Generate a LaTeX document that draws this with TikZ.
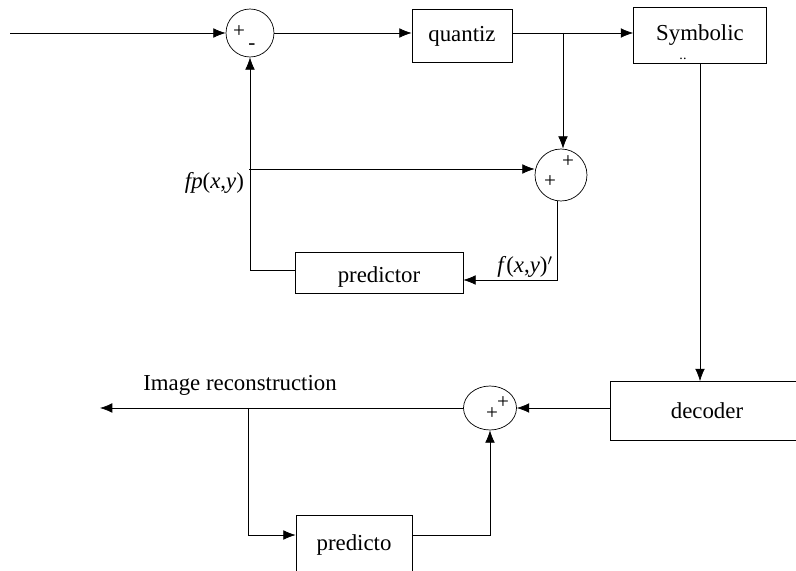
\documentclass[tikz,border=0pt]{standalone}
\usepackage{fontspec}
\setmainfont{Liberation Serif}
\usetikzlibrary{positioning,arrows.meta,shapes.geometric}
\tikzset{>={Latex[length=7pt,width=5.5pt]},
line width=1.1pt,
bl/.style={rectangle,draw,inner sep=0pt},
sm/.style={circle,draw,inner sep=0pt},
sg/.style={font=\fontsize{12}{12}\selectfont,inner sep=0pt},
el/.style={inner sep=1pt},
hv/.style={to path={-| (\tikztotarget)}},
vh/.style={to path={|- (\tikztotarget)}},
}

\begin{document}
\begin{tikzpicture}[x=0.02cm,y=-0.02cm,font=\fontsize{13}{15}\selectfont]
\useasboundingbox (0,0) rectangle (796,571);
\clip (0,0) rectangle (796,571);

\node[sm,minimum size=0.96cm] (s1) at (250,33) {};
\node[sm,minimum size=1.04cm] (s2) at (561,175) {};
\node[sm,ellipse,minimum width=1.06cm,minimum height=0.88cm] (s3) at (490,408) {};
\node[bl,minimum width=2cm,minimum height=1.06cm] (q) at (462,36) {quantiz};
\node[bl,minimum width=2.66cm,minimum height=1.12cm] (sym) at (700,35) {Symbolic};
\node[bl,minimum width=3.88cm,minimum height=1.18cm] (dec) at (707,411) {decoder};
\node[bl,minimum width=3.36cm,minimum height=0.82cm,text height=0.4cm,text depth=0pt] (p1) at (379,273) {predictor};
\node[bl,minimum width=2.32cm,minimum height=1.2cm] (p2) at (354,545) {predicto};

\node[sg] (s1a) at (239,32) {+};
\node[sg] (s1b) at (252,47) {-};
\node[sg] (s2a) at (568,162) {+};
\node[sg] (s2b) at (550,182) {+};
\node[sg] (s3a) at (503,403) {+};
\node[sg] (s3b) at (492,414) {+};
\node[sg,font=\fontsize{8}{8}\selectfont] (symb) at (683,59) {..};

\node[el,anchor=east] (fp) at (246,183) {\textit{fp}(\textit{x},\textit{y})};
\node[el,anchor=south east] (fl) at (555,280) {\textit{f}(\textit{x},\textit{y})$'$};
\node (ir) at (240,385) {Image reconstruction};

\coordinate (in) at (10,33);
\coordinate (b1) at (563,33);
\coordinate (b2) at (249,169);
\coordinate (out) at (100,408);
\coordinate (b3) at (248,408);

\path[->]
(in) edge (s1)
(s1.east) edge (s1.east -| q.west)
(q.east |- b1) edge (b1 -| sym.west)
(b1) edge (b1 |- s2.north)
(b2) edge (b2 -| s2.west)
([xshift=-0.08cm]s2.south) edge[vh] ([yshift=-0.14cm]p1.east)
([yshift=0.06cm]p1.west) edge[hv] (s1.south)
(sym.south) edge (sym.south |- dec.north)
(dec.west |- s3) edge (s3)
(s3) edge (out)
(b3) edge[vh] ([yshift=0.2cm]p2.west)
([yshift=0.2cm]p2.east) edge[hv] (s3.south)
;
\end{tikzpicture}
\end{document}
